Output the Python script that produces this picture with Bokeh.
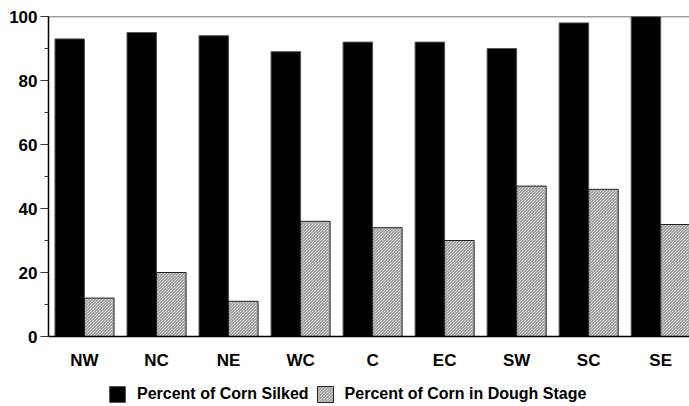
from bokeh.plotting import figure
from bokeh.models import (ColumnDataSource, Range1d, FixedTicker, SingleIntervalTicker,
                          Legend, LegendItem, Span)
from bokeh.embed import file_html
from bokeh.resources import INLINE

regions = ["NW", "NC", "NE", "WC", "C", "EC", "SW", "SC", "SE"]
silked = [93, 95, 94, 89, 92, 92, 90, 98, 100]
dough = [12, 20, 11, 36, 34, 30, 47, 46, 35]

xs = list(range(len(regions)))
src = ColumnDataSource(dict(
    x_s=[x - 0.205 for x in xs],
    x_d=[x + 0.205 for x in xs],
    silked=silked,
    dough=dough,
))

FONT = "Liberation Sans"

# frame spans down to the window bottom so the legend can sit inside it
p = figure(frame_width=641, frame_height=390, output_backend="svg", toolbar_location=None,
           x_range=Range1d(-0.5, 8.40), y_range=Range1d(-21.875, 100),
           min_border_left=48, min_border_right=0, min_border_top=16, min_border_bottom=0)
p.outline_line_color = None
p.grid.visible = False
p.background_fill_color = "white"
p.border_fill_color = "white"

r1 = p.vbar(x="x_s", top="silked", width=0.41, source=src,
            fill_color="black", line_color="#555555", line_width=1)
r2 = p.vbar(x="x_d", top="dough", width=0.41, source=src,
            fill_color="#f2f2f2", line_color="#222222", line_width=1,
            hatch_pattern="\\", hatch_color="#8a8a8a", hatch_scale=3.0, hatch_weight=1)

top_line = Span(location=100, dimension="width", line_color="#444444", line_width=1.5)
p.add_layout(top_line)

# x axis, pinned at y = 0
xa = p.xaxis[0]
xa.fixed_location = 0
xa.ticker = FixedTicker(ticks=xs)
xa.major_label_overrides = {i: r for i, r in enumerate(regions)}
xa.major_tick_line_color = None
xa.minor_tick_line_color = None
xa.major_tick_out = 0
xa.major_tick_in = 0
xa.axis_line_color = "black"
xa.axis_line_width = 1.5
xa.major_label_standoff = 14
xa.major_label_text_font = FONT
xa.major_label_text_font_style = "bold"
xa.major_label_text_font_size = "17px"
xa.major_label_text_color = "black"

# y axis, limited to 0..100
ya = p.yaxis[0]
ya.bounds = (0, 100)
ya.ticker = SingleIntervalTicker(interval=20, num_minor_ticks=2)
ya.axis_line_color = "black"
ya.axis_line_width = 1.5
ya.major_tick_out = 8
ya.major_tick_in = 0
ya.minor_tick_out = 4
ya.minor_tick_in = 0
ya.major_tick_line_color = "#333333"
ya.minor_tick_line_color = "#333333"
ya.major_label_standoff = 3
ya.major_label_text_font = FONT
ya.major_label_text_font_style = "bold"
ya.major_label_text_font_size = "17px"
ya.major_label_text_color = "black"

legend = Legend(items=[
    LegendItem(label="Percent of Corn Silked", renderers=[r1]),
    LegendItem(label="Percent of Corn in Dough Stage", renderers=[r2]),
], orientation="horizontal", location=(59, 2))
legend.border_line_color = None
legend.background_fill_alpha = 0
legend.padding = 0
legend.margin = 0
legend.spacing = 6
legend.glyph_width = 20
legend.glyph_height = 20
legend.label_standoff = 10
legend.label_text_font = FONT
legend.label_text_font_style = "bold"
legend.label_text_font_size = "16px"
legend.label_text_color = "black"
p.add_layout(legend, "center")

open("out.html", "w").write(file_html(p, INLINE))
